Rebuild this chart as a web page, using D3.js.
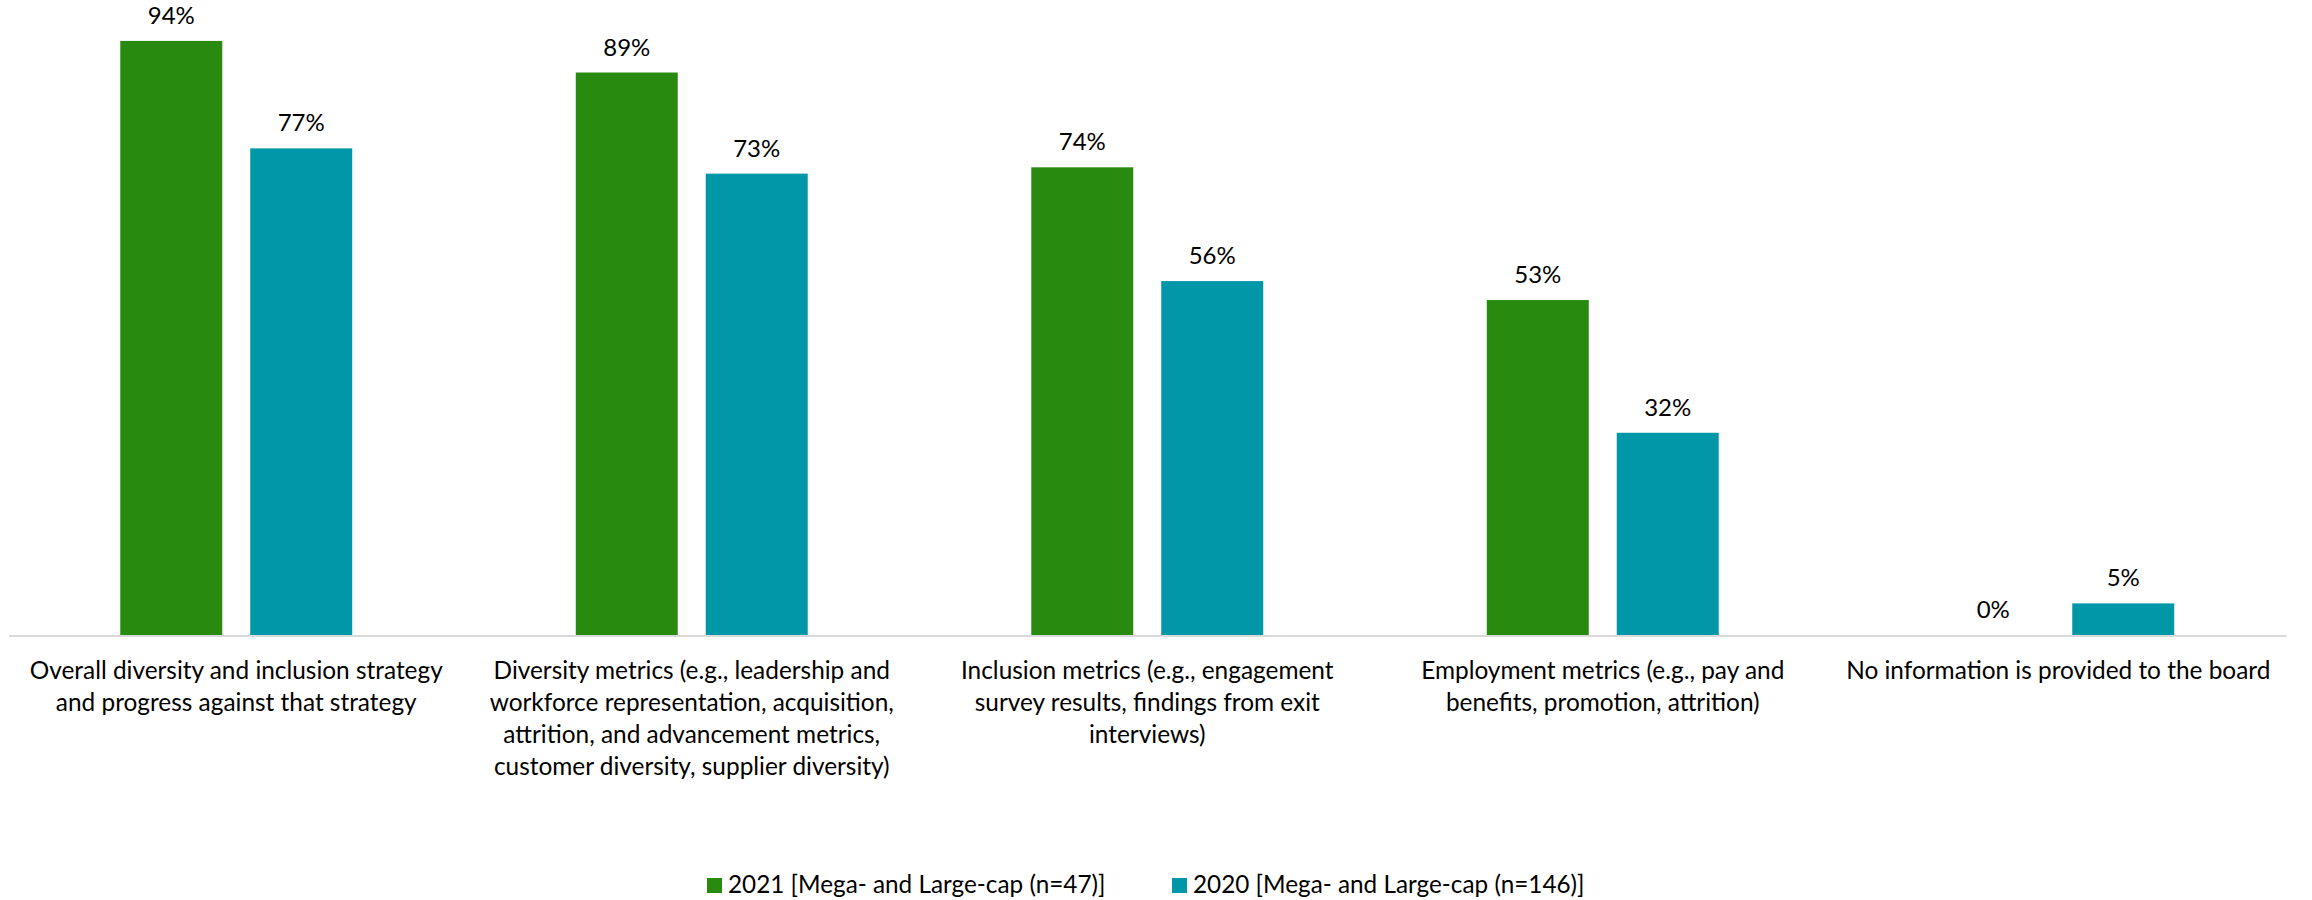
<!DOCTYPE html>
<html>
<head>
<meta charset="utf-8">
<script src="https://cdn.jsdelivr.net/npm/d3@7"></script>
<style>
  html, body { margin: 0; padding: 0; background: #ffffff; }
  svg { display: block; }
  text { font-family: Lato, "Open Sans", sans-serif; fill: #000000; }
</style>
</head>
<body>
<svg id="chart" width="2312" height="900"></svg>
<script>
// Category labels, one entry per line of the wrapped label
const categories = [
  ["Overall diversity and inclusion strategy", "and progress against that strategy"],
  ["Diversity metrics (e.g., leadership and", "workforce representation, acquisition,", "attrition, and advancement metrics,", "customer diversity, supplier diversity)"],
  ["Inclusion metrics (e.g., engagement", "survey results, findings from exit", "interviews)"],
  ["Employment metrics (e.g., pay and", "benefits, promotion, attrition)"],
  ["No information is provided to the board"]
];
const seriesNames = ["2021 [Mega- and Large-cap (n=47)]", "2020 [Mega- and Large-cap (n=146)]"];
const values2021 = [94, 89, 74, 53, 0];
const values2020 = [77, 73, 56, 32, 5];
const seriesColors = ["#288a0f", "#0098a8"];

const svg = d3.select("#chart");
const baseY = 635;
const left = 8.5, right = 2286;

const catIdx = categories.map((_, i) => i);
const x0 = d3.scaleBand().domain(catIdx).range([left, right]).paddingInner(0).paddingOuter(0);
const x1 = d3.scaleBand().domain([0, 1]).range([0, x0.bandwidth()])
  .paddingInner(28 / 130).paddingOuter(0.86);
const y = d3.scaleLinear().domain([0, 100]).range([baseY, 3]);

const rows = catIdx.map(i => ({ i, vals: [values2021[i], values2020[i]] }));

// Bars grouped by category
const groups = svg.append("g").selectAll("g")
  .data(rows).join("g")
  .attr("transform", d => `translate(${x0(d.i)},0)`);

groups.selectAll("rect")
  .data(d => d.vals.map((v, s) => ({ v, s })))
  .join("rect")
  .attr("x", d => x1(d.s))
  .attr("width", x1.bandwidth())
  .attr("y", d => y(d.v))
  .attr("height", d => baseY - y(d.v))
  .attr("fill", d => seriesColors[d.s]);

// Value labels above each bar
groups.selectAll("text.val")
  .data(d => d.vals.map((v, s) => ({ v, s })))
  .join("text")
  .attr("class", "val")
  .attr("x", d => x1(d.s) + x1.bandwidth() / 2)
  .attr("y", d => y(d.v) - 17)
  .attr("text-anchor", "middle")
  .attr("font-size", 24)
  .text(d => d.v + "%");

// Category axis line
const xAxis = d3.axisBottom(x0).tickSize(0).tickFormat("");
const axisG = svg.append("g").attr("transform", `translate(0,${baseY + 0.5})`).call(xAxis);
axisG.select(".domain").attr("stroke", "#d9d9d9").attr("stroke-width", 2);

// Wrapped category labels
const labels = svg.append("g").selectAll("text")
  .data(rows).join("text")
  .attr("text-anchor", "middle")
  .attr("font-size", 24.4)
  .attr("x", d => x0(d.i) + x0.bandwidth() / 2)
  .attr("y", 679);
labels.selectAll("tspan")
  .data(d => categories[d.i].map(line => ({ line, x: x0(d.i) + x0.bandwidth() / 2 })))
  .join("tspan")
  .attr("x", d => d.x)
  .attr("dy", (d, k) => k === 0 ? 0 : 32)
  .text(d => d.line);

// Legend
const legendX = [707, 1172];
const legend = svg.append("g").selectAll("g")
  .data(seriesNames).join("g")
  .attr("transform", (d, i) => `translate(${legendX[i]},878)`);
legend.append("rect").attr("width", 15).attr("height", 15)
  .attr("fill", (d, i) => seriesColors[i]);
legend.append("text").attr("x", 21).attr("y", 15).attr("font-size", 24.3)
  .text(d => d);
</script>
</body>
</html>
